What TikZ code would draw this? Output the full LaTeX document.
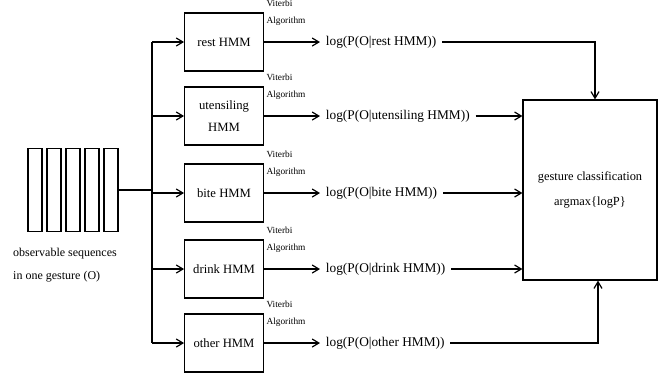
\documentclass[tikz,border=0pt]{standalone}
\usepackage{fontspec}
\setmainfont{Liberation Serif}
\usetikzlibrary{arrows.meta,positioning,calc}

\begin{document}
\begin{tikzpicture}[x=0.75pt,y=-0.75pt,font=\fontsize{9.5}{11}\selectfont,line width=0.9pt,
 bar/.style={draw,minimum width=10.5pt,minimum height=62pt,inner sep=0pt},
 hmmbox/.style={draw,align=center,minimum width=59pt,minimum height=43.5pt,inner sep=1pt,font=\fontsize{9.5}{17}\selectfont},
 vit/.style={anchor=west,align=left,inner sep=1.5pt,font=\fontsize{7}{12.75}\selectfont},
 loglbl/.style={anchor=west,inner xsep=4pt,font=\fontsize{10}{12}\selectfont},
 arr/.style={-{Straight Barb[length=5pt,width=6pt]}}]
\path[use as bounding box] (0,0) rectangle (671,376);
% observation sequence
\foreach \i in {1,...,5}
  \node[bar] (bar\i) at ({35+19*(\i-1)},190) {};
\node[align=left,font=\fontsize{9}{17.25}\selectfont] (seqlbl) at (65,265) {observable sequences\\in one gesture (O)};
\coordinate (trunk) at (152,190);
% one HMM per gesture
\node[hmmbox] (rest) at (224,42) {rest HMM};
\node[hmmbox] (uten) at (224,116) {utensiling\\HMM};
\node[hmmbox] (bite) at (224,193) {bite HMM};
\node[hmmbox] (drink) at (224,269) {drink HMM};
\node[hmmbox] (other) at (224,343) {other HMM};
\draw (bar5.east) -- (trunk);
\draw (trunk |- rest.west) -- (trunk |- other.west);
\foreach \m in {rest,uten,bite,drink,other} {
  \draw[arr] (trunk |- \m.west) -- (\m.west);
  \node[vit] (vit\m) at (\m.north east) {Viterbi\\Algorithm};
}
% likelihoods
\node[loglbl] (lrest) at (320,42) {log(P(O|rest HMM))};
\node[loglbl] (luten) at (320,116) {log(P(O|utensiling HMM))};
\node[loglbl] (lbite) at (320,193) {log(P(O|bite HMM))};
\node[loglbl] (ldrink) at (320,269) {log(P(O|drink HMM))};
\node[loglbl] (lother) at (320,343) {log(P(O|other HMM))};
\foreach \m/\l in {rest/lrest,uten/luten,bite/lbite,drink/ldrink,other/lother}
  \draw[arr] (\m.east) -- (\l.west);
% classifier
\node[draw,minimum width=100.5pt,minimum height=135pt,align=center,font=\fontsize{9.3}{18.75}\selectfont] (cls) at (590,190) {gesture classification\\argmax\{logP\}};
\draw[arr] (lrest.east) -| ([xshift=3.75pt]cls.north);
\draw[arr] (luten.east) -- (luten.east -| cls.west);
\draw[arr] (lbite.east) -- (lbite.east -| cls.west);
\draw[arr] (ldrink.east) -- (ldrink.east -| cls.west);
\draw[arr] (lother.east) -| ([xshift=6pt]cls.south);
\end{tikzpicture}
\end{document}
